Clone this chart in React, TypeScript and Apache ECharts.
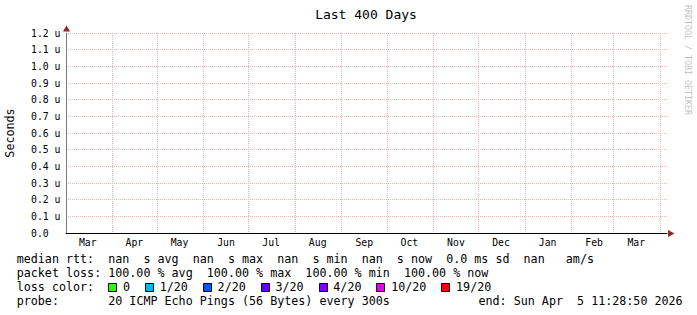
import React, { useEffect, useRef } from "react";
import * as echarts from "echarts";

// ---------- data ----------
const timeRange = ["2025-03-01T11:28:50Z", "2026-04-05T11:28:50Z"];
const monthStarts = [
  "2025-04-01T00:00:00Z", "2025-05-01T00:00:00Z", "2025-06-01T00:00:00Z",
  "2025-07-01T00:00:00Z", "2025-08-01T00:00:00Z", "2025-09-01T00:00:00Z",
  "2025-10-01T00:00:00Z", "2025-11-01T00:00:00Z", "2025-12-01T00:00:00Z",
  "2026-01-01T00:00:00Z", "2026-02-01T00:00:00Z", "2026-03-01T00:00:00Z",
  "2026-04-01T00:00:00Z",
];
const monthLabelDates = [
  "2025-03-16T00:00:00Z", "2025-04-16T00:00:00Z", "2025-05-16T00:00:00Z",
  "2025-06-16T00:00:00Z", "2025-07-16T00:00:00Z", "2025-08-16T00:00:00Z",
  "2025-09-16T00:00:00Z", "2025-10-16T00:00:00Z", "2025-11-16T00:00:00Z",
  "2025-12-16T00:00:00Z", "2026-01-16T00:00:00Z", "2026-02-16T00:00:00Z",
  "2026-03-16T00:00:00Z",
];
const monthLabels = ["Mar", "Apr", "May", "Jun", "Jul", "Aug", "Sep", "Oct", "Nov", "Dec", "Jan", "Feb", "Mar"];
const yRange = [0, 1.2];
const yStep = 0.1;
const medianRtt: (number | null)[] = []; // all nan

const legendRows = [
  "median rtt:  nan  s avg  nan  s max  nan  s min  nan  s now  0.0 ms sd  nan   am/s",
  "packet loss: 100.00 % avg  100.00 % max  100.00 % min  100.00 % now",
];
const lossTitle = "loss color:";
const lossLabels = ["0", "1/20", "2/20", "3/20", "4/20", "10/20", "19/20"];
const lossColors = ["#26ff00", "#00b8ff", "#0059ff", "#5e00ff", "#7e00ff", "#dd00ff", "#ff0000"];
const probeText = "probe:       20 ICMP Echo Pings (56 Bytes) every 300s";
const endText = "end: Sun Apr  5 11:28:50 2026";
const titleText = "Last 400 Days";
const yName = "Seconds";
const watermark = "RRDTOOL / TOBI OETIKER";

// ---------- styles ----------
const MONO = '"DejaVu Sans Mono", monospace';
const CW = 7.04;
const LFS = 11.7;
const GRID_COLOR = "#e8b6b6";

function tokens(str: string, x0: number, y: number) {
  const out: any[] = [];
  const re = /\S+/g;
  let m: RegExpExecArray | null;
  while ((m = re.exec(str))) {
    out.push({
      type: "text",
      x: x0 + m.index * CW,
      y,
      silent: true,
      style: {
        text: m[0],
        fontFamily: MONO,
        fontSize: LFS,
        fill: "#000",
        align: "left",
        verticalAlign: "middle",
      },
    });
  }
  return out;
}

export default function App() {
  const ref = useRef<HTMLDivElement>(null);
  useEffect(() => {
    document.body.style.margin = "0";
    const chart = echarts.init(ref.current!, null, { renderer: "svg" });
    const toMs = (s: string) => new Date(s).getTime();
    const startMs = toMs(timeRange[0]);
    const endMs = toMs(timeRange[1]);
    const tickMs = monthStarts.map(toMs);
    const labelMs = monthLabelDates.map(toMs);

    const X0 = 16.7;
    const graphics: any[] = [];
    graphics.push({
      type: "text", x: 366, y: 14, silent: true,
      style: { text: titleText, fontFamily: MONO, fontSize: 13, fill: "#000", align: "center", verticalAlign: "middle" },
    });
    graphics.push({
      type: "text", x: 10, y: 133, rotation: Math.PI / 2, silent: true,
      style: { text: yName, fontFamily: MONO, fontSize: LFS, fill: "#000", align: "center", verticalAlign: "middle" },
    });
    graphics.push({
      type: "text", x: 687.5, y: 60, rotation: -Math.PI / 2, silent: true,
      style: { text: watermark, fontFamily: MONO, fontSize: 8.3, fill: "#c4c4c4", align: "center", verticalAlign: "middle" },
    });
    // arrows
    graphics.push({
      type: "polygon", silent: true,
      shape: { points: [[63, 31.5], [70, 31.5], [66.5, 25.5]] },
      style: { fill: "#8f2424" },
    });
    graphics.push({
      type: "polygon", silent: true,
      shape: { points: [[668, 230], [668, 237], [674.5, 233.5]] },
      style: { fill: "#8f2424" },
    });
    const rowY = [259.3, 273.3, 287, 301];
    legendRows.forEach((r, i) => graphics.push(...tokens(r, X0, rowY[i])));
    graphics.push(...tokens(lossTitle, X0, rowY[2]));
    let bx = 108.3;
    lossLabels.forEach((lab, i) => {
      graphics.push({
        type: "rect", silent: true,
        shape: { x: Math.round(bx) + 0.5, y: 283.5, width: 8, height: 8 },
        style: { fill: lossColors[i], stroke: "#000", lineWidth: 1 },
      });
      graphics.push(...tokens(lab, bx + 14.7, rowY[2]));
      bx = bx + 14.7 + lab.length * CW + 15;
    });
    graphics.push(...tokens(probeText, X0, rowY[3]));
    graphics.push(...tokens(endText, 478.5, rowY[3]));

    chart.setOption({
      animation: false,
      backgroundColor: "#fff",
      grid: { left: 66, right: 30, top: 33, bottom: 82, containLabel: false },
      xAxis: {
        type: "value",
        min: startMs,
        max: endMs,
        axisLine: { show: true, lineStyle: { color: "#000", width: 1 } },
        axisTick: { show: false, customValues: tickMs },
        splitLine: { show: true, lineStyle: { color: GRID_COLOR, type: [1, 1], width: 1 } },
        axisLabel: {
          customValues: labelMs,
          margin: 4,
          fontFamily: MONO,
          fontSize: 9.8,
          color: "#000",
          formatter: (v: number) => {
            const i = labelMs.indexOf(v);
            return i >= 0 ? monthLabels[i] : "";
          },
        },
      },
      yAxis: {
        type: "value",
        min: yRange[0],
        max: yRange[1],
        interval: yStep,
        axisLine: { show: true, lineStyle: { color: "#7a7a7a", width: 1 } },
        axisTick: { show: false },
        splitLine: { show: true, lineStyle: { color: GRID_COLOR, type: [1, 1], width: 1 } },
        axisLabel: {
          align: "left",
          margin: 35,
          fontFamily: MONO,
          fontSize: 9.8,
          color: "#000",
          formatter: (v: number) => (Math.abs(v) < 1e-9 ? "0.0" : v.toFixed(1) + " u"),
        },
      },
      series: [
        { type: "line", name: "median rtt", data: medianRtt, showSymbol: false },
      ],
      graphic: graphics,
    });
    return () => chart.dispose();
  }, []);
  return <div ref={ref} style={{ width: 697, height: 315, background: "#fff" }} />;
}
